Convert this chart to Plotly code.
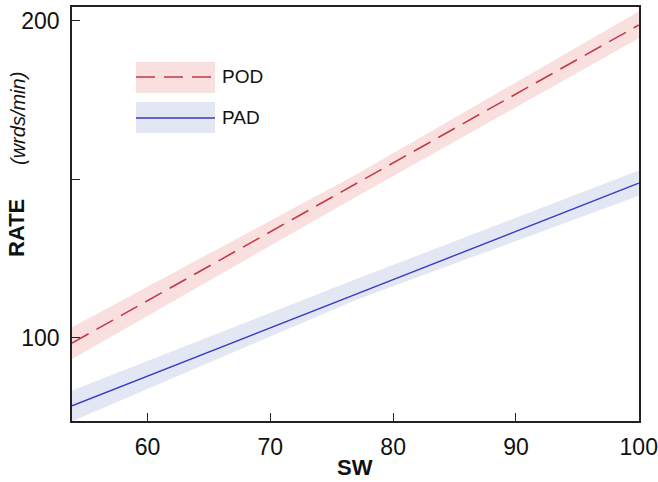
import plotly.graph_objects as go

# ---- data ----
sw_line = [53.85, 100.0]
pod_fit = [98.3, 198.7]
pad_fit = [78.5, 148.8]

sw_band = [53.85, 77.0, 100.0]
pod_lower = [93.3, 144.5, 194.5]
pod_upper = [103.3, 151.5, 203.0]
pad_lower = [73.6, 112.0, 144.8]
pad_upper = [83.3, 118.5, 152.8]

x_ticks = [60, 70, 80, 90, 100]
y_ticks = [100, 150, 200]
y_ticktext = ["100", "", "200"]

series_names = ["POD", "PAD"]

FONT = "Liberation Sans, Arial, sans-serif"
POD_LINE = "#c23a48"
POD_FILL = "#f9dfdd"
PAD_LINE = "#3a3ac8"
PAD_FILL = "#e3e7f4"

fig = go.Figure()

def band(x, lo, hi, color):
    fig.add_trace(go.Scatter(
        x=list(x) + list(x)[::-1], y=list(hi) + list(lo)[::-1],
        fill="toself", fillcolor=color, line=dict(width=0),
        mode="lines", hoverinfo="skip", showlegend=False))

band(sw_band, pod_lower, pod_upper, POD_FILL)
band(sw_band, pad_lower, pad_upper, PAD_FILL)

fig.add_trace(go.Scatter(x=sw_line, y=pod_fit, mode="lines", name=series_names[0],
                         line=dict(color=POD_LINE, width=1.6, dash="19px,9px"),
                         showlegend=False))
fig.add_trace(go.Scatter(x=sw_line, y=pad_fit, mode="lines", name=series_names[1],
                         line=dict(color=PAD_LINE, width=1.4),
                         showlegend=False))

# ---- manual legend (paper coordinates) ----
L, R, T, B = 72, 639, 7, 421
W, H = R - L, B - T
def px(xp): return (xp - L) / W
def py(yp): return (B - yp) / H

shapes = []
for (y0, y1, yl, fillc, linec, dash, name) in [
        (62, 93, 77, POD_FILL, POD_LINE, "dash", series_names[0]),
        (102, 133, 118, PAD_FILL, PAD_LINE, "solid", series_names[1])]:
    shapes.append(dict(type="rect", xref="paper", yref="paper",
                       x0=px(136), x1=px(215), y0=py(y1), y1=py(y0),
                       fillcolor=fillc, line=dict(width=0), layer="above"))
    shapes.append(dict(type="line", xref="paper", yref="paper",
                       x0=px(136), x1=px(215), y0=py(yl), y1=py(yl),
                       line=dict(color=linec, width=1.5,
                                 dash="19px,9px" if dash == "dash" else "solid"),
                       layer="above"))
    fig.add_annotation(xref="paper", yref="paper", x=px(220), y=py(yl),
                       text=name, showarrow=False, xanchor="left", yanchor="middle",
                       font=dict(family=FONT, size=19, color="#111"))

# y-axis title: bold RATE plus italic unit, placed as in the reference
fig.add_annotation(xref="paper", yref="paper", x=px(17), y=py(228),
                   text="<b>RATE</b>", textangle=-90, showarrow=False,
                   xanchor="center", yanchor="middle",
                   font=dict(family=FONT, size=22, color="#111"))
fig.add_annotation(xref="paper", yref="paper", x=px(18), y=py(119),
                   text="<i>(wrds/min)</i>", textangle=-90, showarrow=False,
                   xanchor="center", yanchor="middle",
                   font=dict(family=FONT, size=20, color="#111"))
fig.add_annotation(xref="paper", yref="paper", x=px(355), y=py(467),
                   text="<b>SW</b>", showarrow=False, xanchor="center", yanchor="middle",
                   font=dict(family=FONT, size=22, color="#111"))

axis_common = dict(showgrid=False, zeroline=False, showline=True, mirror=True,
                   linecolor="#222", linewidth=1.5, ticks="inside", ticklen=8,
                   tickwidth=1.2, tickcolor="#222", automargin=False,
                   ticklabeloverflow="allow",
                   tickfont=dict(family=FONT, size=23, color="#111"))

fig.update_layout(
    width=658, height=482,
    margin=dict(l=L, r=658 - R, t=T, b=482 - B),
    paper_bgcolor="white", plot_bgcolor="white",
    shapes=shapes, showlegend=False,
    xaxis=dict(range=[53.85, 100.02], tickvals=x_ticks, ticklabelstandoff=5, **axis_common),
    yaxis=dict(range=[73.7, 204.4], tickvals=y_ticks, ticktext=y_ticktext,
               ticklabelstandoff=6, **axis_common),
)

fig.write_html("out.html", config={"displayModeBar": False},
               post_script="document.body.style.margin='0';")
